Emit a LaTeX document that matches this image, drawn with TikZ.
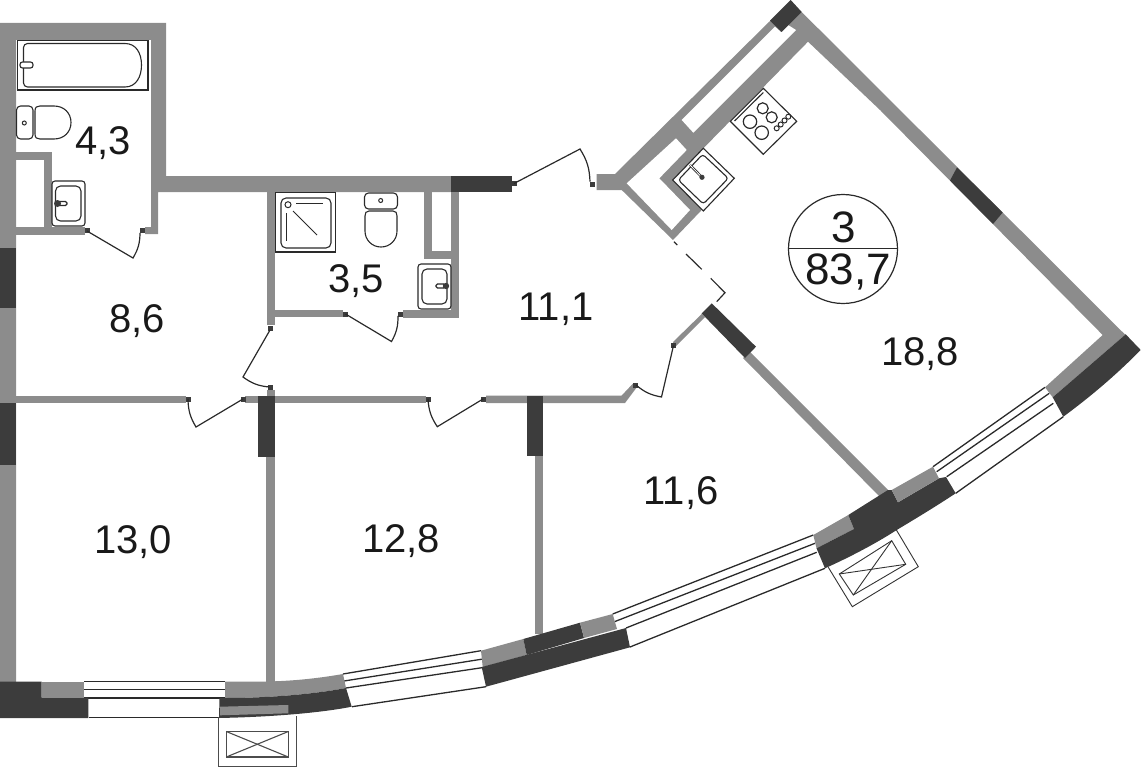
\documentclass[tikz,border=0pt]{standalone}
\usepackage{fontspec}
\setmainfont{Liberation Sans}
\definecolor{wallgray}{HTML}{8C8C8C}
\definecolor{walldark}{HTML}{3C3C3C}
\definecolor{inkline}{HTML}{2A2A2A}
\tikzset{
	wall/.style={fill=wallgray, draw=none},
	bearing/.style={fill=walldark, draw=none},
	fixture/.style={draw=inkline, line width=1.1pt, fill=white},
	glazing/.style={draw=inkline, line width=1.3pt},
	doorleaf/.style={draw=inkline, line width=1.2pt},
	area/.style={font=\fontsize{40}{40}\selectfont, text=black!90, inner sep=0pt},
}
\def\doorpin(#1,#2){\fill[walldark] (#1-2.5,#2-2.5) rectangle (#1+2.5,#2+2.5);}

\begin{document}
\begin{tikzpicture}[x=1pt, y=-1pt]
		\useasboundingbox (0, 0) rectangle (1141, 768);
		%%%%% START %%%%%

		% outer left wall and bathroom
		\fill[wall] (0, 23) -- (166, 23) -- (166, 176) -- (451, 176) -- (451, 192) -- (158, 192) -- (158, 234) -- (145, 234) -- (145, 227) -- (151, 227) -- (151, 40) -- (16, 40) -- (16, 682) -- (0, 682) -- cycle;
		\fill[wall] (16, 227) rectangle (85, 235);
		\fill[wall] (44, 152) rectangle (52, 227);
		\fill[wall] (16, 152) rectangle (44, 160);
		\fill[bearing] (0, 248) rectangle (16, 308);
		\fill[bearing] (0, 403) rectangle (16, 465);

		% second bathroom
		\fill[wall] (266.5, 192) rectangle (274.5, 325);
		\fill[wall] (274, 310) rectangle (343, 317);
		\fill[wall] (403, 310) rectangle (459, 317.5);
		\fill[wall] (451, 192) rectangle (459, 317);
		\fill[wall] (424, 192) rectangle (432, 259);
		\fill[wall] (424, 251) rectangle (451, 259);
		\fill[bearing] (451, 176) rectangle (512, 192);

		% corridor partitions
		\fill[wall] (16, 395.5) rectangle (186, 403);
		\fill[wall] (245, 395.5) rectangle (426, 403);
		\fill[wall] (266.5, 390) rectangle (274.5, 396);
		\fill[wall] (486, 395.5) -- (621.7, 395.5) -- (633, 383.5) -- (637, 387) -- (625, 403) -- (486, 403) -- cycle;
		\fill[wall] (266, 457) rectangle (274.5, 682);
		\fill[wall] (534.7, 456) rectangle (542.7, 634);
		\fill[bearing] (258, 395.5) rectangle (274.5, 457);
		\fill[bearing] (526.7, 395.5) rectangle (542.7, 456);
		\fill[wall] (673, 342) -- (701.7, 314) -- (705, 317) -- (675, 347) -- cycle;
		\fill[wall] (750, 352) -- (889, 491) -- (880, 497) -- (743, 358) -- cycle;
		\fill[bearing] (711.7, 303.3) -- (756, 346.7) -- (745, 358) -- (701.7, 313.5) -- cycle;

		% kitchen walls
		\fill[wall] (596.7, 174) -- (615, 174) -- (770, 21) -- (790, 5) -- (801.7, 12) -- (1125.5, 335) -- (1102.7, 335) -- (880, 110) -- (808, 41.7) -- (701.7, 150) -- (672.7, 180) -- (701.7, 210) -- (673, 240) -- (621.7, 190) -- (596.7, 190) -- cycle;
		\fill[white] (681.7, 120) -- (775, 26.7) -- (781, 32) -- (788, 25) -- (796, 30) -- (693.3, 132.7) -- cycle;
		\fill[white] (676, 138.3) -- (686.7, 150) -- (659.3, 178.3) -- (690, 210) -- (671.7, 230) -- (626.7, 183.3) -- cycle;
		\fill[bearing] (790.7, 0) -- (801.7, 12) -- (781.7, 32) -- (770, 20.7) -- cycle;
		\fill[bearing] (957, 167.5) -- (1002.7, 212.5) -- (993, 224) -- (950, 180.5) -- cycle;

		% windows
		\draw[glazing] (84, 681.7) -- (225, 681.7);
		\draw[glazing] (84, 689.7) -- (225, 689.7);
		\draw[glazing] (84, 698) -- (225, 698);
		\draw[glazing] (89, 717.7) -- (219, 717.7);
		\draw[glazing] (343, 674) -- (481, 650.7);
		\draw[glazing] (344, 681) -- (483, 659);
		\draw[glazing] (346, 688) -- (482, 667.7);
		\draw[glazing] (352, 706.7) -- (486, 686.7);
		\draw[glazing] (612.7, 614) -- (813.3, 535);
		\draw[glazing] (615, 621.5) -- (815, 543.3);
		\draw[glazing] (626, 628) -- (816.7, 552.3);
		\draw[glazing] (630, 647) -- (825, 568.3);
		\draw[glazing] (933, 466.7) -- (1045, 387.3);
		\draw[glazing] (936.7, 471.7) -- (1049.3, 393.3);
		\draw[glazing] (946.7, 476.7) -- (1053.3, 403.3);
		\draw[glazing] (955.7, 493.3) -- (1063.3, 416.7);

		% wall pieces on the curved front
		\fill[bearing] (0, 681.7) -- (41.7, 681.7) -- (41.7, 697.7) -- (88.3, 697.7) -- (88.3, 718) -- (0, 718) -- cycle;
		\fill[wall] (41.7, 681.7) rectangle (84, 697.7);
		\fill[wall] (225, 681.5) -- (266, 681.5) .. controls (295, 681) and (320, 678) .. (343, 674) -- (346, 688) .. controls (315, 694) and (270, 698) .. (225, 698) -- cycle;
		\fill[bearing] (219.5, 698) -- (225, 698) .. controls (270, 698) and (315, 694) .. (346, 688) -- (351.7, 706.7) .. controls (320, 713) and (270, 717) .. (219, 718) -- cycle;
		\fill[wall] (220, 706.7) -- (288.3, 705) -- (288.3, 713.3) -- (220, 715.3) -- cycle;
		\fill[wall] (481, 650.7) -- (523.3, 639) -- (526.7, 655) -- (482.7, 667) -- cycle;
		\fill[bearing] (523.3, 639) -- (580, 622.7) -- (584, 638) -- (526.7, 655) -- cycle;
		\fill[wall] (580, 622.7) -- (612.7, 614) -- (617, 629) -- (584, 638) -- cycle;
		\fill[bearing] (481.7, 667) -- (626, 628) -- (630, 647.3) -- (486, 686.7) -- cycle;
		\fill[wall] (813.3, 535) -- (848.3, 515) -- (854, 529) -- (816.5, 548.3) -- cycle;
		\fill[bearing] (848.3, 515) -- (888, 490) -- (891.7, 490) -- (898, 502.3) -- (939, 478.3) -- (946, 477) -- (955.7, 493.3) .. controls (935, 507) and (915, 519) .. (896.7, 530) .. controls (875, 544) and (850, 557) .. (825, 568.3) -- (816.5, 548.3) -- (854, 529) -- cycle;
		\fill[wall] (891.7, 490) -- (933, 466.7) -- (939, 478.3) -- (898, 502.3) -- cycle;
		\fill[wall] (1045, 387.3) -- (1102.7, 335) -- (1125.7, 334.3) -- (1052.7, 397.3) -- cycle;
		\fill[bearing] (1125.7, 334.3) -- (1140.7, 350) .. controls (1115, 376) and (1090, 397) .. (1063.3, 416.7) -- (1052.7, 397.3) -- cycle;

		% loggia hatches
		\draw[draw=black!70, line width=1.1pt] (218.7, 717) -- (218.7, 766.7) -- (296.7, 766.7) -- (296.7, 716);
		\draw[draw=black!70, line width=1.1pt] (226.3, 731.5) rectangle (288.3, 757);
		\draw[draw=black!70, line width=1.1pt] (226.3, 731.5) -- (288.3, 757);
		\draw[draw=black!70, line width=1.1pt] (226.3, 757) -- (288.3, 731.5);
		\draw[draw=black!80, line width=0.9pt] (896, 529.3) -- (918.3, 566.7) -- (852.3, 606.7) -- (828.3, 567.3);
		\draw[draw=black!80, line width=0.9pt] (891.7, 540.7) -- (905.7, 564.3) -- (853.3, 595) -- (839.3, 574) -- cycle;
		\draw[draw=black!80, line width=0.9pt] (891.7, 540.7) -- (853.3, 595);
		\draw[draw=black!80, line width=0.9pt] (905.7, 564.3) -- (839.3, 574);

		% doors
		\foreach \px/\py in {87/230, 142/230, 345.5/314, 400.5/314, 270/328.5, 270/387, 188/399, 243/399, 428/399, 483/399, 514/183.5, 592.7/184.3, 635.5/385, 673.5/345.5}
			{\doorpin(\px,\py)}
		\draw[doorleaf] (87, 231) -- (133, 258) to[bend right=15] (140, 233);
		\draw[doorleaf] (345.5, 314) -- (391.5, 341.5) to[bend right=15] (398, 316);
		\draw[doorleaf] (270, 330) -- (243, 377) to[bend right=15] (269, 387);
		\draw[doorleaf] (243, 399) -- (196, 427) to[bend left=15] (188, 399);
		\draw[doorleaf] (483, 399) -- (437.3, 426.7) to[bend left=15] (428, 399);
		\draw[doorleaf] (514, 183.5) -- (580, 149) to[bend left=15] (590, 181.7);
		\draw[doorleaf] (673.5, 345.5) -- (661.5, 397) to[bend left=15] (636, 385);

		% opening to kitchen
		\draw[doorleaf] (674, 241.7) -- (677.3, 245);
		\draw[doorleaf] (686, 254) -- (701.7, 269.3);
		\draw[doorleaf] (710.7, 278.3) -- (725, 292.7) -- (716.7, 301.7);

		% bath
		\draw[fixture] (17.5, 40.5) rectangle (148, 90);
		\draw[fixture, rounded corners=4pt] (125, 43.5) -- (23.5, 43.5) -- (23.5, 87) -- (125, 87);
		\draw[fixture] (125, 43.5) .. controls (136, 43.5) and (141.5, 53) .. (141.5, 65) .. controls (141.5, 77) and (136, 87) .. (125, 87);
		\draw[fixture, rounded corners=2.5pt] (20, 62) rectangle (33, 68);

		% first toilet
		\draw[fixture, rounded corners=4pt] (16.5, 106) rectangle (33, 139);
		\draw[fixture] (35, 111) .. controls (35, 107) and (37, 106) .. (40, 106) -- (54, 106) .. controls (64, 106) and (71, 113) .. (71, 122.5) .. controls (71, 132) and (64, 139) .. (54, 139) -- (40, 139) .. controls (37, 139) and (35, 138) .. (35, 134) -- cycle;
		\draw[inkline, line width=1pt] (24.3, 123) circle (2);

		% first sink
		\draw[fixture, rounded corners=3pt] (52, 181) rectangle (85, 226);
		\draw[fixture, rounded corners=5pt] (55.5, 186) rectangle (81, 221);
		\draw[fixture, rounded corners=1.5pt] (59, 201.5) rectangle (67, 205.5);
		\fill[walldark] (57.5, 203.5) circle (3.5);

		% shower
		\draw[fixture] (275.7, 192.7) rectangle (335.7, 252);
		\draw[fixture, rounded corners=5pt] (281, 198) rectangle (331, 248);
		\draw[inkline, line width=1pt] (288, 204.7) circle (3);
		\draw[inkline, line width=1pt] (296, 203.5) -- (322.5, 203.5);
		\draw[inkline, line width=1pt] (286.5, 213) -- (286.5, 241);
		\draw[inkline, line width=1pt] (293, 211) -- (317, 235);

		% second toilet
		\draw[fixture, rounded corners=4pt] (364.5, 193) rectangle (397.5, 209);
		\draw[fixture] (369, 211) -- (393, 211) .. controls (396, 211) and (397, 213) .. (397, 216) -- (397, 231) .. controls (397, 240) and (390, 247) .. (381, 247) .. controls (372, 247) and (365, 240) .. (365, 231) -- (365, 216) .. controls (365, 213) and (366, 211) .. (369, 211) -- cycle;
		\draw[inkline, line width=1pt] (380.7, 200.5) circle (2);

		% second sink
		\draw[fixture, rounded corners=3pt] (418, 264) rectangle (451, 309);
		\draw[fixture, rounded corners=5pt] (422, 269) rectangle (447, 304);
		\draw[fixture, rounded corners=1.5pt] (436, 284) rectangle (445, 288);
		\fill[walldark] (446, 286) circle (3.2);

		% stove
		\draw[fixture] (763.3, 88.3) -- (796.7, 121.3) -- (763.3, 154.3) -- (730.3, 121.3) -- cycle;
		\draw[inkline, line width=1.1pt] (734.5, 121) -- (763.3, 92.5);
		\draw[inkline, line width=1.2pt] (750, 121.7) circle (6.7);
		\draw[inkline, line width=1.2pt] (762.7, 108.3) circle (5.5);
		\draw[inkline, line width=1.2pt] (771.7, 117.3) circle (5.5);
		\draw[inkline, line width=1.2pt] (761.7, 132.7) circle (6.7);
		\foreach \kx/\ky in {776.7/128.3, 780.7/124.5, 784.5/120.5, 788.3/116.7}
			{\draw[inkline, line width=1pt] (\kx, \ky) circle (2.5);}

		% kitchen sink
		\draw[fixture] (703.3, 148.3) -- (734.3, 178.3) -- (703.3, 211) -- (672.7, 180) -- cycle;
		\draw[fixture, rounded corners=3pt] (702.7, 154.3) -- (728.3, 178.3) -- (703.3, 204) -- (678.3, 180) -- cycle;
		\draw[draw=inkline, line width=2.4pt] (690, 165) -- (702, 177.3);
		\draw[draw=white, line width=0.8pt] (690, 165) -- (702, 177.3);
		\fill[walldark] (702, 177.3) circle (2.6);

		% flat number
		\draw[inkline, line width=1.2pt] (843, 249) circle (54.5);
		\draw[inkline, line width=1.2pt] (789, 248.3) -- (897, 248.3);
		\node[area, font=\fontsize{44}{44}\selectfont] (flatrooms) at (843.5, 227) {3};
		\node[area, font=\fontsize{44}{44}\selectfont] (flattotal) at (848, 272) {83,7};

		% room areas
		\node[area] (bathA) at (103, 143.5) {4,3};
		\node[area] (hallA) at (137, 321.5) {8,6};
		\node[area] (bathB) at (356, 281.5) {3,5};
		\node[area] (hallB) at (556, 309.5) {11,1};
		\node[area] (kitchen) at (920, 354.5) {18,8};
		\node[area] (bedA) at (133, 542.5) {13,0};
		\node[area] (bedB) at (401, 541.5) {12,8};
		\node[area] (bedC) at (681, 493.5) {11,6};

		%%%%% END %%%%%
	\end{tikzpicture}
\end{document}
